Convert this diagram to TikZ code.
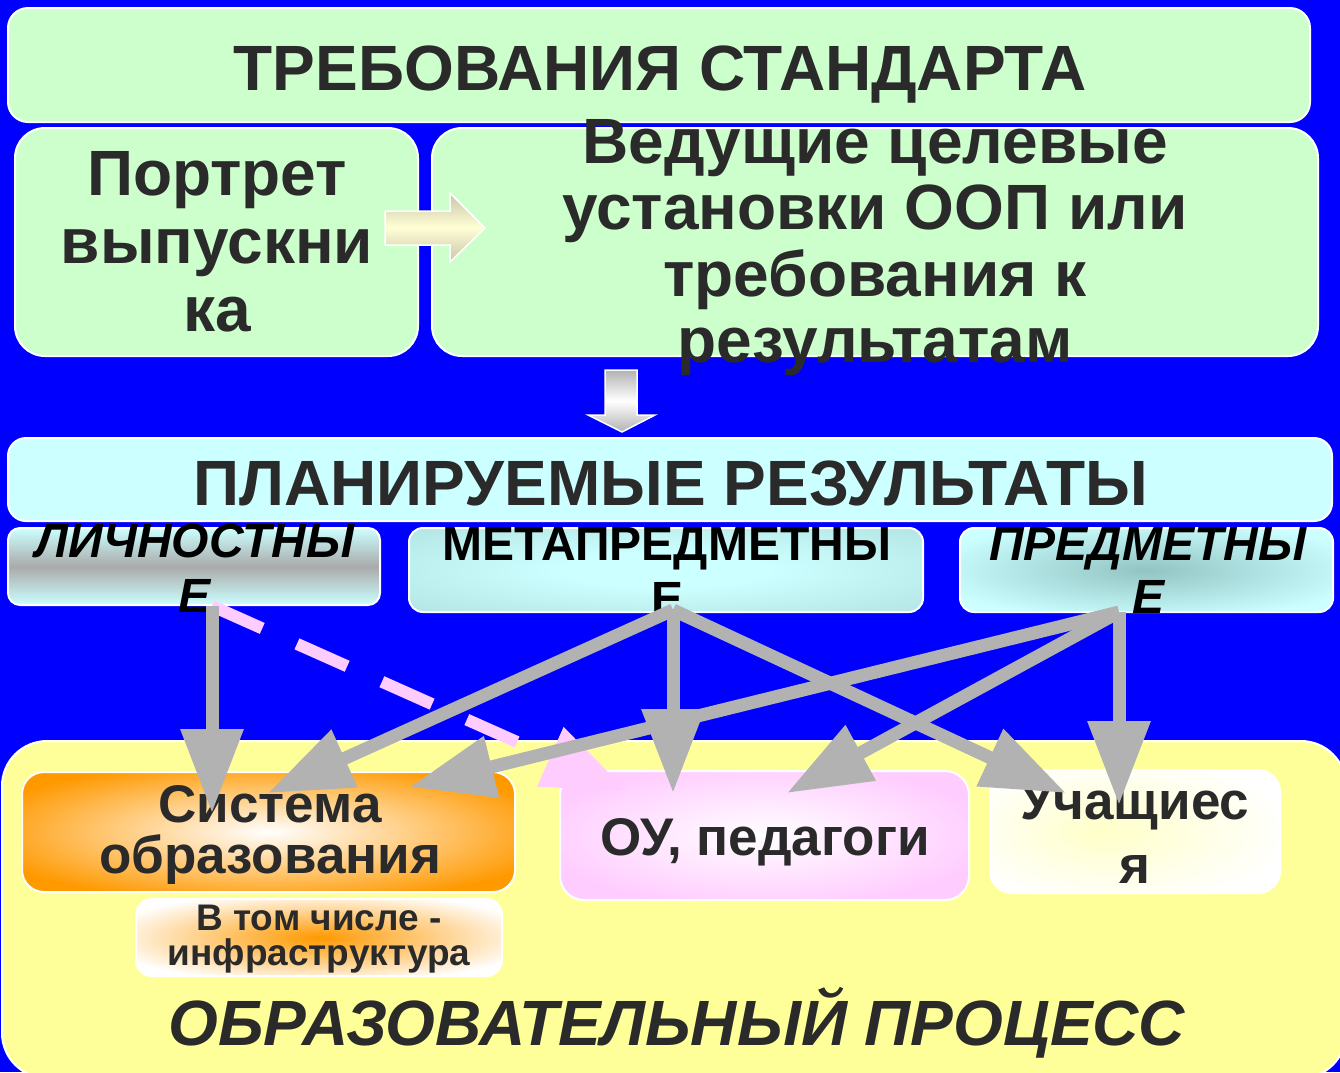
\documentclass[tikz,border=0pt]{standalone}
\usepackage{fontspec}
\setmainfont{Liberation Sans}
\usetikzlibrary{arrows.meta}
\definecolor{bgblue}{HTML}{0000FF}
\definecolor{lgreen}{HTML}{CCFFCC}
\definecolor{lcyan}{HTML}{CCFFFF}
\definecolor{lyellow}{HTML}{FFFF99}
\definecolor{darktext}{HTML}{2A2A2A}
\definecolor{arrowgray}{HTML}{B2B2B2}
\definecolor{pinkc}{HTML}{FFCCFF}
\definecolor{orangec}{HTML}{FF9900}
\definecolor{cyanedge}{HTML}{B0E0E0}
\definecolor{tealc}{HTML}{92C4C4}
\definecolor{greymid}{HTML}{AAAAAA}
\definecolor{creamc}{HTML}{FFFFD5}
\definecolor{creamedge}{HTML}{C9C4A8}
\definecolor{paleyellow}{HTML}{FFFFC8}
\pgfdeclareradialshading{metashade}{\pgfpoint{0bp}{0bp}}{color(0bp)=(lcyan); color(10bp)=(lcyan); color(40bp)=(cyanedge); color(50bp)=(cyanedge)}
\pgfdeclareradialshading{predshade}{\pgfpoint{0bp}{0bp}}{color(0bp)=(tealc); color(30bp)=(lcyan); color(50bp)=(lcyan)}
\pgfdeclareradialshading{sysshade}{\pgfpoint{0bp}{0bp}}{color(0bp)=(white); color(30bp)=(orangec); color(50bp)=(orangec)}
\pgfdeclareradialshading{infshade}{\pgfpoint{0bp}{0bp}}{color(0bp)=(orangec); color(30bp)=(white); color(50bp)=(white)}
\pgfdeclareradialshading{oushade}{\pgfpoint{0bp}{0bp}}{color(0bp)=(white); color(28bp)=(pinkc); color(50bp)=(pinkc)}
\pgfdeclareradialshading{uchshade}{\pgfpoint{-6bp}{0bp}}{color(0bp)=(paleyellow); color(30bp)=(white); color(50bp)=(white)}
\begin{document}
\begin{tikzpicture}[x=1pt,y=-1pt,
  box/.style={draw=white, line width=2pt, rounded corners=#1, inner sep=0pt, outer sep=0pt},
  box/.default=20pt,
  txtbase/.style={anchor=base, inner sep=0pt, text=darktext},
  bigtxt/.style={txtbase, font=\fontsize{64}{68}\selectfont\bfseries},
  midtxt/.style={txtbase, font=\fontsize{48}{55}\selectfont\bfseries, text=black},
  midit/.style={midtxt, font=\fontsize{48}{55}\selectfont\bfseries\itshape},
  systxt/.style={txtbase, font=\fontsize{53}{55}\selectfont\bfseries},
  smalltxt/.style={txtbase, font=\fontsize{37}{38}\selectfont\bfseries},
  garrow/.style={draw=arrowgray, line width=13pt, -{Triangle[width=60pt,length=84pt]}},
  parrow/.style={draw=pinkc, line width=12pt, dash pattern=on 55pt off 38pt, -{Triangle[width=62pt,length=84pt]}}
]
\useasboundingbox (0,0) rectangle (1340,1072);
\clip (0,0) rectangle (1340,1072);
\fill[bgblue] (0,0) rectangle (1340,1072);

% upper boxes
\node[box, fill=lgreen, minimum width=1302pt, minimum height=114pt] (titlebox) at (659,65) {};
\node[box=30pt, fill=lgreen, minimum width=403pt, minimum height=228pt] (portbox) at (216.5,242) {};
\node[box=30pt, fill=lgreen, minimum width=886pt, minimum height=228pt] (goalbox) at (875,242) {};
\node[box=18pt, fill=lcyan, minimum width=1324pt, minimum height=83pt] (planbox) at (670,479.5) {};

% block arrows
\path[draw=white, line width=1.5pt, top color=creamedge, bottom color=creamedge, middle color=creamc]
  (385,211) -- (450,211) -- (450,193) -- (485,228) -- (450,262) -- (450,245) -- (385,245) -- cycle;
\path[draw=white, line width=1.5pt, top color=arrowgray, bottom color=arrowgray, middle color=white]
  (605,370) -- (637,370) -- (637,415) -- (655,415) -- (622,432) -- (588,415) -- (605,415) -- cycle;

% result kinds
\node[box=12pt, top color=lcyan, bottom color=lcyan, middle color=greymid, minimum width=372pt, minimum height=77pt] (lichbox) at (194,566.5) {};
\node[box=14pt, shade, shading=metashade, minimum width=514pt, minimum height=84pt] (metabox) at (666,570) {};
\node[box=14pt, shade, shading=predshade, minimum width=373pt, minimum height=84pt] (predbox) at (1146.5,570) {};

% process
\node[box=45pt, fill=lyellow, minimum width=1344pt, minimum height=337pt] (procbox) at (674,909.5) {};
\node[box=22pt, shade, shading=sysshade, minimum width=493pt, minimum height=120pt] (sysbox) at (268.5,832) {};
\node[box=16pt, shade, shading=infshade, minimum width=366pt, minimum height=77pt] (infbox) at (319,937.5) {};
\node[box=24pt, shade, shading=oushade, minimum width=409pt, minimum height=129pt] (oubox) at (764.5,835.5) {};
\node[box=22pt, shade, shading=uchshade, minimum width=290pt, minimum height=123pt] (uchbox) at (1135,831.5) {};

% texts
\node[bigtxt] (t-title) at (660,90) {ТРЕБОВАНИЯ СТАНДАРТА};
\node[bigtxt] (t-port1) at (217,195) {Портрет};
\node[bigtxt] (t-port2) at (217,263) {выпускни};
\node[bigtxt] (t-port3) at (217,331) {ка};
\node[bigtxt] (t-goal1) at (875,163) {Ведущие целевые};
\node[bigtxt] (t-goal2) at (875,229) {установки ООП или};
\node[bigtxt] (t-goal3) at (875,296) {требования к};
\node[bigtxt] (t-goal4) at (875,362) {результатам};
\node[bigtxt] (t-plan) at (671,505) {ПЛАНИРУЕМЫЕ РЕЗУЛЬТАТЫ};
\node[midit] (t-lich1) at (195,557) {ЛИЧНОСТНЫ};
\node[midit] (t-lich2) at (195,612) {Е};
\node[midtxt] (t-meta1) at (667,560) {МЕТАПРЕДМЕТНЫ};
\node[midtxt] (t-meta2) at (667,615) {Е};
\node[midit] (t-pred1) at (1148,560) {ПРЕДМЕТНЫ};
\node[midit] (t-pred2) at (1148,613) {Е};
\node[systxt] (t-sys1) at (270,822) {Система};
\node[systxt] (t-sys2) at (270,873) {образования};
\node[smalltxt] (t-inf1) at (319,930) {В том числе -};
\node[smalltxt] (t-inf2) at (319,965) {инфраструктура};
\node[systxt] (t-ou) at (765,855) {ОУ, педагоги};
\node[systxt] (t-uch1) at (1135,819) {Учащиес};
\node[systxt] (t-uch2) at (1135,883) {я};
\node[txtbase, font=\fontsize{64}{68}\selectfont\bfseries\itshape] (t-proc) at (677,1045) {ОБРАЗОВАТЕЛЬНЫЙ ПРОЦЕСС};

% connector ends
\coordinate (lichS) at (212,606);
\coordinate (metaS) at (673,610);
\coordinate (predS) at (1119,612);
\coordinate (sysA) at (212,813);
\coordinate (sysB) at (268,793);
\coordinate (sysC) at (410,787);
\coordinate (ouA) at (627,791);
\coordinate (ouB) at (673,793);
\coordinate (ouC) at (787,793);
\coordinate (uchA) at (1066,793);
\coordinate (uchB) at (1119,805);

% connectors
\draw[parrow] (lichS) -- (ouA);
\draw[garrow] (lichS) -- (sysA);
\draw[garrow] (metaS) -- (sysB);
\draw[garrow] (metaS) -- (ouB);
\draw[garrow] (metaS) -- (uchA);
\draw[garrow] (predS) -- (sysC);
\draw[garrow] (predS) -- (ouC);
\draw[garrow] (predS) -- (uchB);
\end{tikzpicture}
\end{document}
